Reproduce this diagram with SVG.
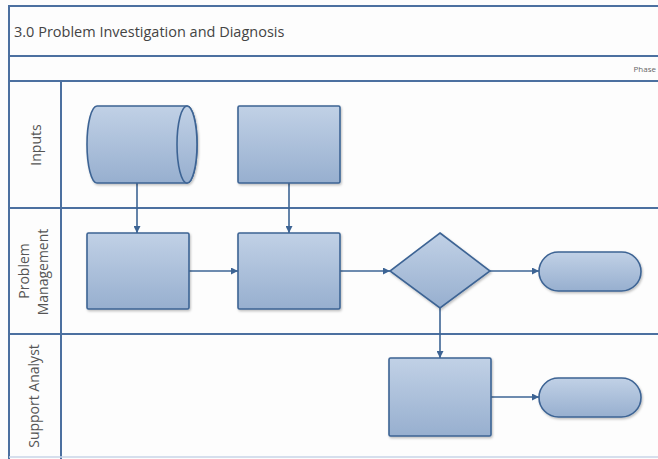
<svg xmlns="http://www.w3.org/2000/svg" width="658" height="459" viewBox="0 0 658 459">
  <style>
    .frame { stroke: #4c70a0; stroke-width: 2; fill: none; }
    .shape { fill: url(#shapeFill); stroke: #3d6494; stroke-width: 1.6; }
    .conn { stroke: #3d6494; stroke-width: 1.6; fill: none; marker-end: url(#arrow); }
    .lane { font-family: "Open Sans", "DejaVu Sans", sans-serif; font-size: 14px; fill: #555; text-anchor: middle; }
    .title { font-family: "Open Sans", "DejaVu Sans", sans-serif; font-size: 14.5px; fill: #444; }
  </style>
  <defs>
    <linearGradient id="shapeFill" x1="0" y1="0" x2="0" y2="1">
      <stop offset="0" stop-color="#c1d1e6"/>
      <stop offset="1" stop-color="#97afcf"/>
    </linearGradient>
    <marker id="arrow" viewBox="0 0 10 10" refX="10" refY="5" markerWidth="7" markerHeight="7" markerUnits="userSpaceOnUse" orient="auto">
      <path d="M0,0 L10,5 L0,10 z" fill="#3d6494"/>
    </marker>
    <filter id="soft" x="-10%" y="-10%" width="130%" height="130%">
      <feDropShadow dx="1" dy="1.5" stdDeviation="1" flood-color="#000" flood-opacity="0.25"/>
    </filter>
  </defs>

  <rect width="658" height="459" fill="#fdfdfd"/>

  <!-- pool frame and lanes -->
  <g id="pool">
    <line class="frame" x1="9" y1="6" x2="658" y2="6"/>
    <line class="frame" x1="9" y1="5" x2="9" y2="459"/>
    <line class="frame" x1="9" y1="56" x2="658" y2="56"/>
    <line class="frame" x1="9" y1="81" x2="658" y2="81"/>
    <line class="frame" x1="9" y1="208" x2="658" y2="208"/>
    <line class="frame" x1="9" y1="334" x2="658" y2="334"/>
    <line class="frame" x1="61" y1="81" x2="61" y2="459"/>
    <line x1="9" y1="457" x2="658" y2="457" stroke="#c8d5e7" stroke-width="1.5"/>
    <text class="title" x="14" y="37">3.0 Problem Investigation and Diagnosis</text>
    <text x="656" y="72" text-anchor="end" font-family="'Open Sans', 'DejaVu Sans', sans-serif" font-size="8" fill="#666">Phase</text>
    <text class="lane" transform="translate(41,145) rotate(-90)">Inputs</text>
    <text class="lane" transform="translate(29,271) rotate(-90)">Problem</text>
    <text class="lane" transform="translate(48,272) rotate(-90)">Management</text>
    <text class="lane" transform="translate(39,396) rotate(-90)">Support Analyst</text>
  </g>

  <!-- connectors -->
  <g id="connectors">
    <line class="conn" x1="137" y1="183" x2="137" y2="233"/>
    <line class="conn" x1="289" y1="183" x2="289" y2="233"/>
    <line class="conn" x1="189" y1="271" x2="238" y2="271"/>
    <line class="conn" x1="340" y1="271" x2="390" y2="271"/>
    <line class="conn" x1="490" y1="271" x2="539" y2="271"/>
    <line class="conn" x1="440" y1="308" x2="440" y2="358"/>
    <line class="conn" x1="491" y1="397" x2="539" y2="397"/>
  </g>

  <!-- nodes -->
  <g id="store" filter="url(#soft)">
    <path class="shape" d="M97,106 L187,106 A10,38.5 0 0 1 187,183 L97,183 A10,38.5 0 0 1 97,106 z"/>
    <ellipse class="shape" cx="187" cy="144.5" rx="10" ry="38.5"/>
  </g>
  <g id="input-process" filter="url(#soft)">
    <rect class="shape" x="238" y="106" width="102" height="77" rx="1.5"/>
  </g>
  <g id="pm-process-1" filter="url(#soft)">
    <rect class="shape" x="87" y="233" width="102" height="76" rx="1.5"/>
  </g>
  <g id="pm-process-2" filter="url(#soft)">
    <rect class="shape" x="238" y="233" width="102" height="76" rx="1.5"/>
  </g>
  <g id="decision" filter="url(#soft)">
    <polygon class="shape" points="440,233 490,271 440,308 390,271"/>
  </g>
  <g id="pm-end" filter="url(#soft)">
    <rect class="shape" x="539" y="252" width="102" height="39" rx="19.5"/>
  </g>
  <g id="sa-process" filter="url(#soft)">
    <rect class="shape" x="389" y="358" width="102" height="78" rx="1.5"/>
  </g>
  <g id="sa-end" filter="url(#soft)">
    <rect class="shape" x="539" y="378" width="102" height="39" rx="19.5"/>
  </g>
</svg>
